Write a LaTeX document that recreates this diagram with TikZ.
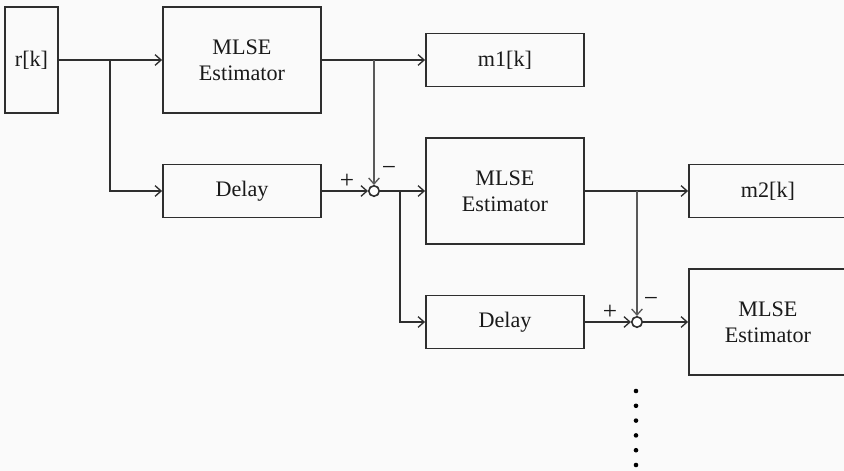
\documentclass[tikz,border=0pt]{standalone}
\usepackage{fontspec}
\setmainfont{Liberation Serif}
\usetikzlibrary{arrows.meta}
\definecolor{ln}{HTML}{2E2E2E}
\definecolor{tx}{HTML}{1A1A1A}
\begin{document}
\begin{tikzpicture}[x=0.75pt,y=-0.75pt,
  blk/.style={draw=ln,line width=1.4pt,inner sep=0pt,text=tx,align=center,
     font=\fontsize{16.6}{19.5}\selectfont,minimum width=158*0.75pt},
  tall/.style={blk,minimum height=106*0.75pt},
  short/.style={blk,minimum height=53*0.75pt},
  sumc/.style={circle,draw=ln,line width=1.2pt,minimum size=10.5*0.75pt,inner sep=0pt,fill=white},
  arr/.style={draw=ln,line width=1.4pt,-{Straight Barb[length=4.5pt,width=8pt,line width=1pt]}},
  farr/.style={draw=black!65,line width=1pt,-{Straight Barb[length=4.5pt,width=8pt,line width=1pt]}},
  sgn/.style={text=tx,inner sep=0pt,font=\fontsize{19}{19}\selectfont}]
\fill[black!2] (0,0) rectangle (844,471);
\useasboundingbox (0,0) rectangle (844,471);
\clip (0,0) rectangle (844,471);
% blocks
\node[tall,minimum width=53*0.75pt] (rk) at (31.5,60) {r[k]};
\node[tall] (mlse1) at (242,60) {MLSE\\Estimator};
\node[short] (m1) at (505,60) {m1[k]};
\node[short] (del1) at (242,191) {Delay};
\node[sumc] (s1) at (374,191) {};
\node[tall] (mlse2) at (505,191) {MLSE\\Estimator};
\node[short] (m2) at (768,191) {m2[k]};
\node[short] (del2) at (505,322) {Delay};
\node[sumc] (s2) at (637,322) {};
\node[tall] (mlse3) at (768,322) {MLSE\\Estimator};
% branch points
\coordinate (b1) at (110,60);
\coordinate (b2) at (374,60);
\coordinate (b3) at (400,191);
\coordinate (b4) at (637,191);
% connectors
\draw[arr] (rk.east) -- (mlse1.west);
\draw[arr] (b1) |- (del1.west);
\draw[arr] (mlse1.east) -- (m1.west);
\draw[farr] (b2) -- (s1.north);
\draw[arr] (del1.east) -- (s1.west);
\draw[arr] (s1.east) -- (mlse2.west);
\draw[arr] (b3) |- (del2.west);
\draw[arr] (mlse2.east) -- (m2.west);
\draw[farr] (b4) -- (s2.north);
\draw[arr] (del2.east) -- (s2.west);
\draw[arr] (s2.east) -- (mlse3.west);
% signs
\node[sgn] (p1) at (347,181) {+};
\node[sgn] (n1) at (389,171) {−};
\node[sgn] (p2) at (610,312) {+};
\node[sgn] (n2) at (651,302) {−};
% dots
\foreach \i in {0,...,5} \fill[black] (636,391+14.8*\i) circle (2.3);
\end{tikzpicture}
\end{document}
